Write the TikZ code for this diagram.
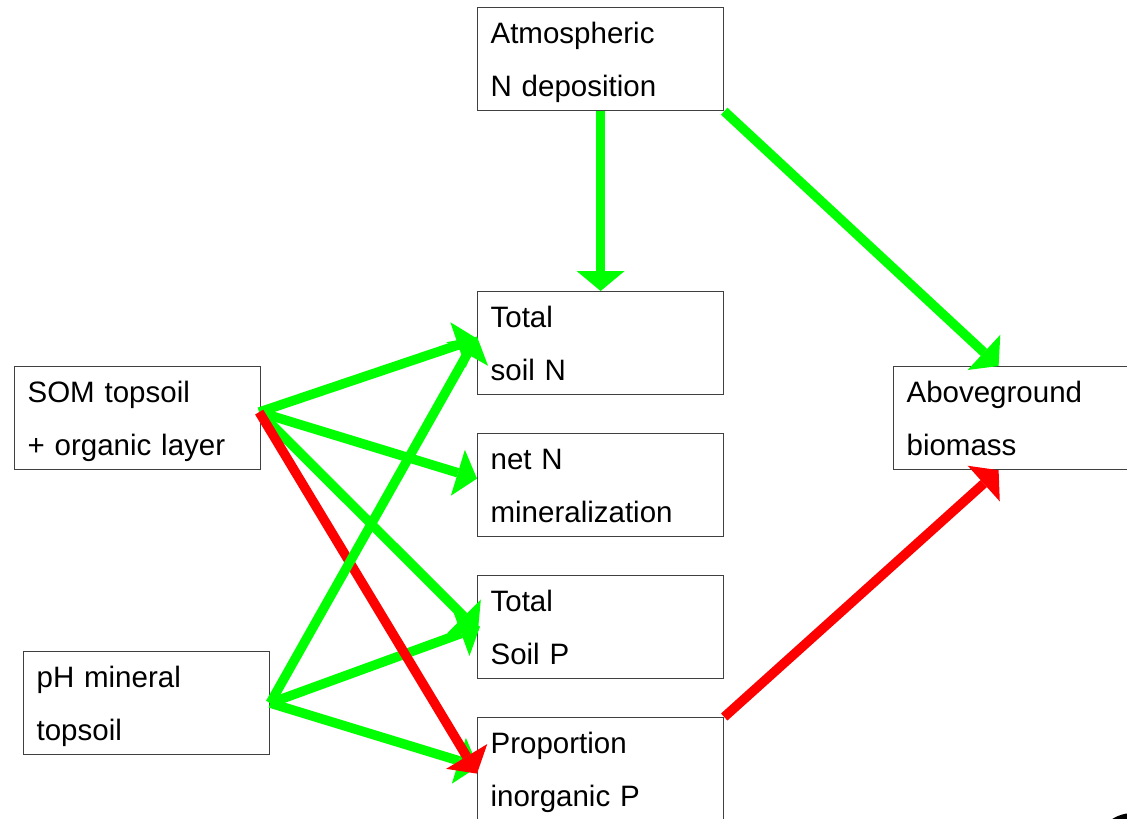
\documentclass[tikz,border=0pt]{standalone}
\usepackage{fontspec}
\setmainfont{Liberation Sans}
\usetikzlibrary{arrows.meta}
\definecolor{ggreen}{RGB}{0,255,0}
\definecolor{rred}{RGB}{255,0,0}
\newcommand\boxline[1]{\rule[-8pt]{0pt}{38pt}#1}
\begin{document}
\begin{tikzpicture}[x=1pt,y=-1pt,
  box/.style={draw=black!75, line width=1.2pt, fill=white, rectangle, anchor=north west,
    minimum width=246pt, minimum height=103pt, text width=220pt, inner xsep=13pt,
    inner ysep=0pt, align=left, font=\fontsize{29.5pt}{53pt}\selectfont},
  link/.style={line width=9.5pt, -{Triangle[length=20pt,width=48pt,line width=0pt]}},
  posarrow/.style={link, draw=ggreen, fill=ggreen},
  negarrow/.style={link, draw=rred, fill=rred}]
\clip (0,0) rectangle (1127,819);
\fill[white] (0,0) rectangle (1127,819);

\node[box] (atm) at (477,7) {\boxline{Atmospheric}\\\boxline{N deposition}};
\node[box] (totN) at (477,291) {\boxline{Total}\\\boxline{soil N}};
\node[box] (netN) at (477,433) {\boxline{net N}\\\boxline{mineralization}};
\node[box] (totP) at (477,575) {\boxline{Total}\\\boxline{Soil P}};
\node[box] (prop) at (477,717) {\boxline{Proportion}\\\boxline{inorganic P}};
\node[box] (som) at (14,366) {\boxline{SOM topsoil}\\\boxline{+ organic layer}};
\node[box] (ph) at (23,651) {\boxline{pH mineral}\\\boxline{topsoil}};
\node[box] (agb) at (893,366) {\boxline{Aboveground}\\\boxline{biomass}};

\coordinate (somOut) at ([xshift=-2pt,yshift=6pt]som.east);
\coordinate (agbIn) at ([xshift=-18pt]agb.north);
\coordinate (agbIn2) at ([xshift=-18pt]agb.south);

\draw[posarrow] (atm.south) -- (totN.north);
\draw[posarrow] (atm.south east) -- (agbIn);
\draw[posarrow] (somOut) -- ([yshift=4.5pt]totN.west);
\draw[posarrow] (somOut) -- ([yshift=6.5pt]netN.west);
\draw[posarrow] (somOut) -- ([xshift=1pt,yshift=-3.5pt]totP.west);
\draw[posarrow] (ph.east) -- ([xshift=3pt,yshift=0.5pt]totP.west);
\draw[posarrow] (ph.east) -- ([xshift=1pt,yshift=2.5pt]prop.west);
\draw[negarrow] (somOut) -- ([yshift=-4.5pt]prop.west);
\draw[posarrow] (ph.east) -- ([yshift=6.5pt]totN.west);
\draw[negarrow] (prop.north east) -- (agbIn2);

\draw[line width=6pt] (1133,852) circle (36);
\end{tikzpicture}
\end{document}
